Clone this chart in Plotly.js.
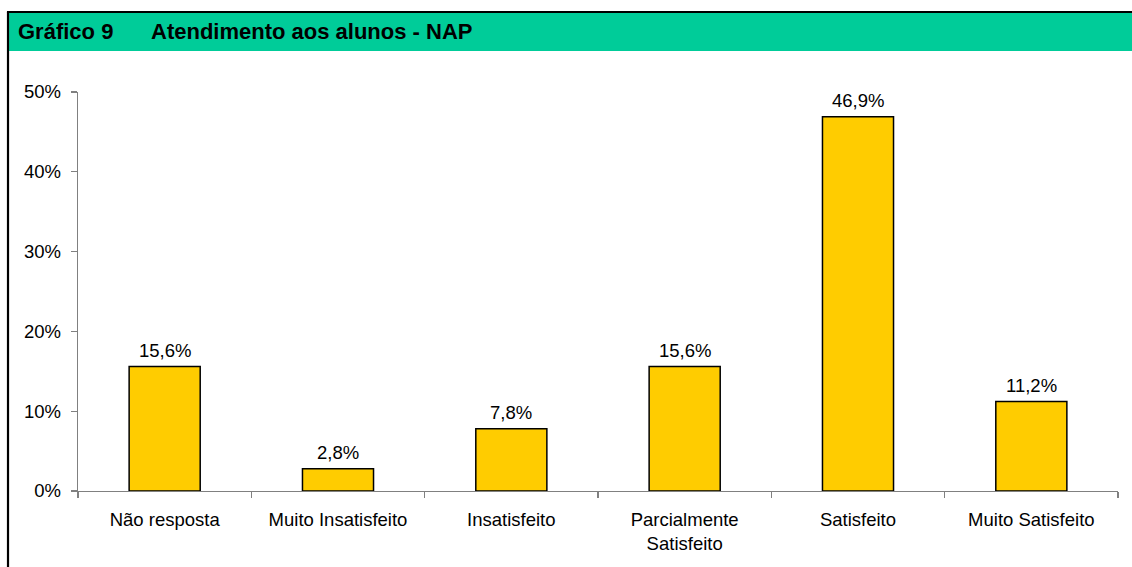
<!DOCTYPE html>
<html>
<head>
<meta charset="utf-8">
<script src="https://cdn.plot.ly/plotly-3.0.1.min.js"></script>
<style>
  html, body { margin: 0; padding: 0; background: #fff; }
  #chart { width: 1132px; height: 567px; }
</style>
</head>
<body>
<div id="chart"></div>
<script>
"use strict"
var categories = [
  'Não resposta',
  'Muito Insatisfeito',
  'Insatisfeito',
  'Parcialmente<br>Satisfeito',
  'Satisfeito',
  'Muito Satisfeito'
];

var values = [0.156, 0.028, 0.078, 0.156, 0.469, 0.112];

var yTicks = [0, 0.1, 0.2, 0.3, 0.4, 0.5];
var yTickText = ['0%', '10%', '20%', '30%', '40%', '50%'];

var chartNumber = 'Gráfico 9';
var chartTitle = 'Atendimento aos alunos - NAP';

var fontFamily = '"Liberation Sans", Arial, sans-serif';
var axisColor = '#808080';
var textSize = 18.5;

var trace = {
  x: categories,
  y: values,
  type: 'bar',
  width: 0.41,
  marker: {
    color: '#FFCC00',
    line: { color: '#000000', width: 1.5 }
  },
  hoverinfo: 'none'
};

// value labels above the bars
var labels = values.map(function (v, i) {
  return {
    x: categories[i],
    y: v,
    xref: 'x',
    yref: 'y',
    text: (v * 100).toFixed(1).replace('.', ',') + '%',
    showarrow: false,
    yanchor: 'bottom',
    yshift: 4,
    font: { family: fontFamily, size: textSize, color: '#000' }
  };
});

// header texts
labels.push({
  x: -0.0596, y: 1.151, xref: 'paper', yref: 'paper',
  xanchor: 'left', yanchor: 'middle', showarrow: false,
  text: '<b>' + chartNumber + '</b>',
  font: { family: fontFamily, size: 22, color: '#000' }
});
labels.push({
  x: 0.0683, y: 1.151, xref: 'paper', yref: 'paper',
  xanchor: 'left', yanchor: 'middle', showarrow: false,
  text: '<b>' + chartTitle + '</b>',
  font: { family: fontFamily, size: 22, color: '#000' }
});

var layout = {
  width: 1132,
  height: 567,
  margin: { l: 78, r: 14, t: 92, b: 76 },
  paper_bgcolor: '#ffffff',
  plot_bgcolor: '#ffffff',
  showlegend: false,
  font: { family: fontFamily, size: textSize, color: '#000' },
  xaxis: {
    type: 'category',
    showline: true,
    linecolor: axisColor,
    linewidth: 1.3,
    ticks: 'outside',
    tickson: 'boundaries',
    ticklen: 6,
    tickcolor: axisColor,
    tickwidth: 1.3,
    ticklabelstandoff: 11,
    showgrid: false,
    zeroline: false,
    tickfont: { family: fontFamily, size: textSize, color: '#000' }
  },
  yaxis: {
    range: [0, 0.5],
    tickvals: yTicks,
    ticktext: yTickText,
    showline: true,
    linecolor: axisColor,
    linewidth: 1.3,
    ticks: 'outside',
    ticklen: 6,
    tickcolor: axisColor,
    tickwidth: 1.3,
    ticklabelstandoff: 6,
    showgrid: false,
    zeroline: false,
    tickfont: { family: fontFamily, size: textSize, color: '#000' }
  },
  shapes: [
    {
      type: 'rect', xref: 'paper', yref: 'paper',
      x0: -0.0663, x1: 1.03, y0: 1.103, y1: 1.199,
      fillcolor: '#00CC99', line: { width: 0 }, layer: 'below'
    },
    {
      type: 'line', xref: 'paper', yref: 'paper',
      x0: -0.0683, x1: 1.03, y0: 1.2005, y1: 1.2005,
      line: { color: '#000', width: 2.2 }
    },
    {
      type: 'line', xref: 'paper', yref: 'paper',
      x0: -0.0673, x1: -0.0673, y0: 1.2005, y1: -0.3,
      line: { color: '#000', width: 2.2 }
    }
  ],
  annotations: labels
};

Plotly.newPlot('chart', [trace], layout, { staticPlot: true });
</script>
</body>
</html>
